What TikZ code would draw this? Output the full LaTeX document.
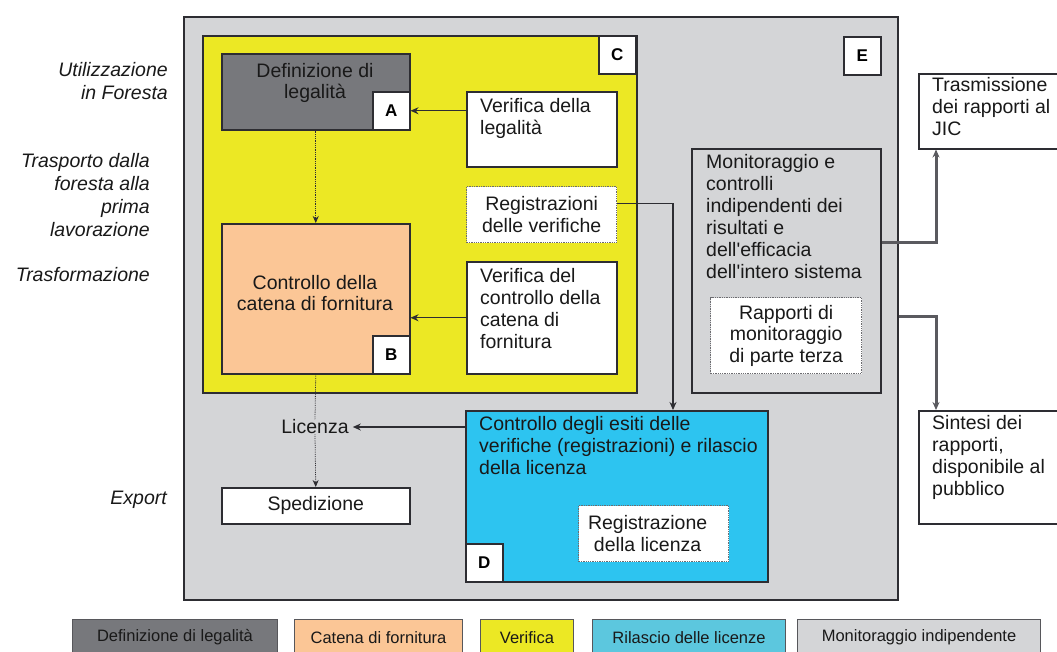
\documentclass[tikz,border=0pt]{standalone}
\usepackage{fontspec}
\setmainfont{Liberation Sans}[Ligatures=TeXOff]
\usetikzlibrary{positioning,arrows.meta}
\definecolor{grigioE}{RGB}{212,213,215}
\definecolor{giallo}{RGB}{236,232,36}
\definecolor{grigioscuro}{RGB}{119,120,124}
\definecolor{pesca}{RGB}{251,198,150}
\definecolor{ciano}{RGB}{45,196,240}
\definecolor{cianoleg}{RGB}{92,199,222}
\definecolor{bordo}{RGB}{45,45,50}
\definecolor{testo}{RGB}{25,25,25}
\definecolor{linea}{RGB}{90,90,95}

\begin{document}
\begin{tikzpicture}[x=1pt,y=-1pt,
  box/.style={draw=bordo,line width=1.5pt,anchor=north west,inner sep=0pt},
  dotbox/.style={draw=bordo!70,densely dotted,line width=1.3pt,fill=white,anchor=north west,inner sep=0pt},
  txt/.style={font=\fontsize{19.5}{22}\selectfont,text=testo,align=left,inner sep=0pt,anchor=north west},
  ctxt/.style={font=\fontsize{19.5}{21.5}\selectfont,text=testo,align=center,inner sep=0pt},
  side/.style={font=\fontsize{19.5}{23}\selectfont\itshape,text=testo,align=right,inner sep=0pt,anchor=east},
  tag/.style={draw=bordo,line width=1.5pt,fill=white,anchor=north west,minimum width=37,minimum height=38,inner sep=0pt,font=\fontsize{17}{17}\selectfont\bfseries},
  leg/.style={draw=bordo!80,line width=1pt,anchor=north west,minimum height=36,inner sep=0pt,font=\fontsize{16.5}{17}\selectfont,text=testo},
  freccia/.style={-{Stealth[length=8pt,width=7pt]},line width=1.1pt,draw=bordo},
  puntini/.style={densely dotted,line width=0.8pt,draw=bordo},
  grossa/.style={-{Stealth[length=8pt,width=7pt]},line width=3pt,draw=linea}]
  \useasboundingbox (0,0) rectangle (1057,651);

  % fasi a sinistra
  \node[side] (fase1) at (168,81) {Utilizzazione\\in Foresta};
  \node[side] (fase2) at (150,195) {Trasporto dalla\\foresta alla\\prima\\lavorazione};
  \node[side] (fase3) at (150,275) {Trasformazione};
  \node[side] (fase4) at (167,500) {Export};

  % riquadro E e riquadro C
  \node[box,fill=grigioE,minimum width=714,minimum height=583] (boxE) at (183,16) {};
  \node[tag] (tagE) at (843,36) {E};
  \node[box,fill=giallo,minimum width=434,minimum height=357] (boxC) at (202,35) {};
  \node[tag] (tagC) at (598,35) {C};

  % A e B
  \node[box,fill=grigioscuro,minimum width=188,minimum height=76] (defleg) at (221,53) {};
  \node[ctxt] at (315,83) {Definizione di\\legalità};
  \node[tag] (tagA) at (372,91) {A};
  \node[box,fill=pesca,minimum width=188,minimum height=150] (catena) at (221,223) {};
  \node[ctxt] at (315,293) {Controllo della\\catena di fornitura};
  \node[tag] (tagB) at (372,335) {B};

  % verifiche
  \node[box,fill=white,minimum width=150,minimum height=75] (verleg) at (466,91) {};
  \node[txt] at ([shift={(14,7)}]verleg.north west) {Verifica della\\legalità};
  \node[dotbox,minimum width=150,minimum height=56] (regver) at (466,186) {};
  \node[ctxt] at (regver) {Registrazioni\\delle verifiche};
  \node[box,fill=white,minimum width=150,minimum height=112] (verctrl) at (466,261) {};
  \node[txt] at ([shift={(14,7)}]verctrl.north west) {Verifica del\\controllo della\\catena di\\fornitura};

  % licenza e spedizione
  \node[ctxt] (licenza) at (315,427) {Licenza};
  \node[box,fill=white,minimum width=188,minimum height=36] (sped) at (221,487) {};
  \node[ctxt] at (sped) {Spedizione};

  % D
  \node[box,fill=ciano,minimum width=302,minimum height=171] (boxD) at (465,410) {};
  \node[txt] at ([shift={(14,6)}]boxD.north west) {Controllo degli esiti delle\\verifiche (registrazioni) e rilascio\\della licenza};
  \node[dotbox,minimum width=150,minimum height=56] (reglic) at (578,505) {};
  \node[ctxt] at ([xshift=-6]reglic) {Registrazione\\della licenza};
  \node[tag] (tagD) at (465,543) {D};

  % monitoraggio
  \node[box,fill=grigioE,minimum width=189,minimum height=244] (monit) at (691,148) {};
  \node[txt] at ([shift={(15,6)}]monit.north west) {Monitoraggio e\\controlli\\indipendenti dei\\risultati e\\dell'efficacia\\dell'intero sistema};
  \node[dotbox,minimum width=151,minimum height=76] (rappmon) at (710,297) {};
  \node[ctxt] at (rappmon) {Rapporti di\\monitoraggio\\di parte terza};

  % a destra
  \node[box,fill=white,minimum width=144,minimum height=75] (trasm) at (918,73) {};
  \node[txt] at ([shift={(14,4)}]trasm.north west) {Trasmissione\\dei rapporti al\\JIC};
  \node[box,fill=white,minimum width=144,minimum height=113] (sintesi) at (918,410) {};
  \node[txt] at ([shift={(14,5)}]sintesi.north west) {Sintesi dei\\rapporti,\\disponibile al\\pubblico};

  % collegamenti
  \draw[puntini,-{Stealth[length=7pt,width=6pt]}] (defleg.south) -- (catena.north);
  \draw[puntini] (catena.south) -- (licenza.north);
  \draw[puntini,-{Stealth[length=7pt,width=6pt]}] (licenza.south) -- (sped.north);
  \draw[freccia] (verleg.west |- tagA.east) -- (tagA.east);
  \draw[freccia] (verctrl.west) -- (verctrl.west -| catena.east);
  \coordinate (entrataD) at (673,410);
  \draw[freccia] ([yshift=11]regver.east) -| (entrataD);
  \draw[freccia] (licenza.east -| boxD.west) -- ([xshift=4]licenza.east);
  \draw[grossa] ([yshift=28]monit.east) -| ([xshift=18]trasm.south west);
  \draw[grossa] ([yshift=-8.5]boxE.east) -| ([xshift=18]sintesi.north west);

  % legenda
  \node[leg,fill=grigioscuro,minimum width=205] (legA) at (72,619) {Definizione di legalità};
  \node[leg,fill=pesca,minimum width=168] (legB) at (294,619) {Catena di fornitura};
  \node[leg,fill=giallo,minimum width=93] (legC) at (480,619) {Verifica};
  \node[leg,fill=cianoleg,minimum width=193] (legD) at (592,619) {Rilascio delle licenze};
  \node[leg,fill=grigioE,minimum width=243] (legE) at (797,619) {Monitoraggio indipendente};
\end{tikzpicture}
\end{document}
